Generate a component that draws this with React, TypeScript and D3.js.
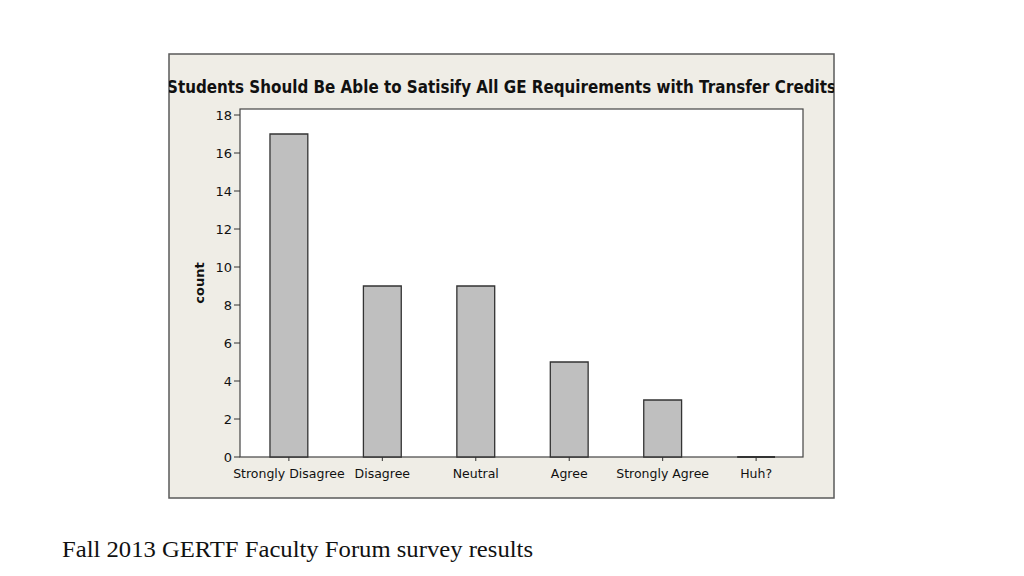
import React from "react";
import * as d3 from "d3";

const categories = ["Strongly Disagree", "Disagree", "Neutral", "Agree", "Strongly Agree", "Huh?"];
const counts = [17, 9, 9, 5, 3, 0];
const yTicks = [0, 2, 4, 6, 8, 10, 12, 14, 16, 18];
const title = "Students Should Be Able to Satisify All GE Requirements with Transfer Credits";
const yLabel = "count";
const caption = "Fall 2013 GERTF Faculty Forum survey results";

export default function App() {
  const W = 1024, H = 576;
  const panel = { x: 169, y: 54, w: 665, h: 444 };
  const plot = { x0: 240, x1: 803, y0: 109, y1: 457 };
  const x = d3.scaleBand<string>().domain(categories).range([plot.x0, plot.x1]).paddingInner(0.595).paddingOuter(0.31);
  const y = d3.scaleLinear().domain([0, 18]).range([457, 115]);
  const tickFont = "'DejaVu Sans', Verdana, sans-serif";
  const barPath = (c: string, v: number) => {
    const p = d3.path();
    const x0 = x(c)! + 1, x1 = x0 + x.bandwidth();
    p.moveTo(x0, y(0));
    p.lineTo(x0, y(v));
    p.lineTo(x1, y(v));
    p.lineTo(x1, y(0));
    p.closePath();
    return p.toString();
  };
  return (
    <svg width={W} height={H} style={{ position: "absolute", left: 0, top: 0, background: "#fff" }}>
      <defs>
        <clipPath id="pclip">
          <rect x={panel.x} y={panel.y} width={panel.w} height={panel.h} />
        </clipPath>
      </defs>
      <rect x={panel.x} y={panel.y} width={panel.w} height={panel.h} fill="#efede6" stroke="#5a5a5a" strokeWidth={1.5} />
      <g clipPath="url(#pclip)">
        <text x={167} y={93} fontFamily={tickFont} fontWeight="bold" fontSize={17} fill="#111"
          textLength={669} lengthAdjust="spacingAndGlyphs">{title}</text>
      </g>
      <rect x={plot.x0} y={plot.y0} width={plot.x1 - plot.x0} height={plot.y1 - plot.y0} fill="#fff" stroke="#444" strokeWidth={1.2} />
      {counts.map((c, i) => (
        <path key={categories[i]} d={barPath(categories[i], c)}
          fill="#bfbfbf" stroke="#333" strokeWidth={c === 0 ? 2 : 1.3} />
      ))}
      {yTicks.map((t) => (
        <g key={t}>
          <line x1={plot.x0 - 6} x2={plot.x0} y1={y(t)} y2={y(t)} stroke="#333" strokeWidth={1} />
          <text x={plot.x0 - 8} y={y(t)} dy="0.36em" textAnchor="end" fontFamily={tickFont} fontSize={13} fill="#111">{t}</text>
        </g>
      ))}
      {categories.map((c) => {
        const cx = x(c)! + 1 + x.bandwidth() / 2;
        return (
          <g key={c}>
            <line x1={cx} x2={cx} y1={plot.y1} y2={plot.y1 + 4} stroke="#333" strokeWidth={1} />
            <text x={cx} y={478} textAnchor="middle" fontFamily={tickFont} fontSize={12.5} fill="#111">{c}</text>
          </g>
        );
      })}
      <text transform={`translate(204, ${(plot.y0 + plot.y1) / 2}) rotate(-90)`} textAnchor="middle"
        fontFamily={tickFont} fontWeight="bold" fontSize={13} fill="#111">{yLabel}</text>
      <text x={62} y={557} fontFamily="'Liberation Serif', 'DejaVu Serif', serif" fontSize={23} fill="#111"
        textLength={471} lengthAdjust="spacingAndGlyphs">{caption}</text>
    </svg>
  );
}
